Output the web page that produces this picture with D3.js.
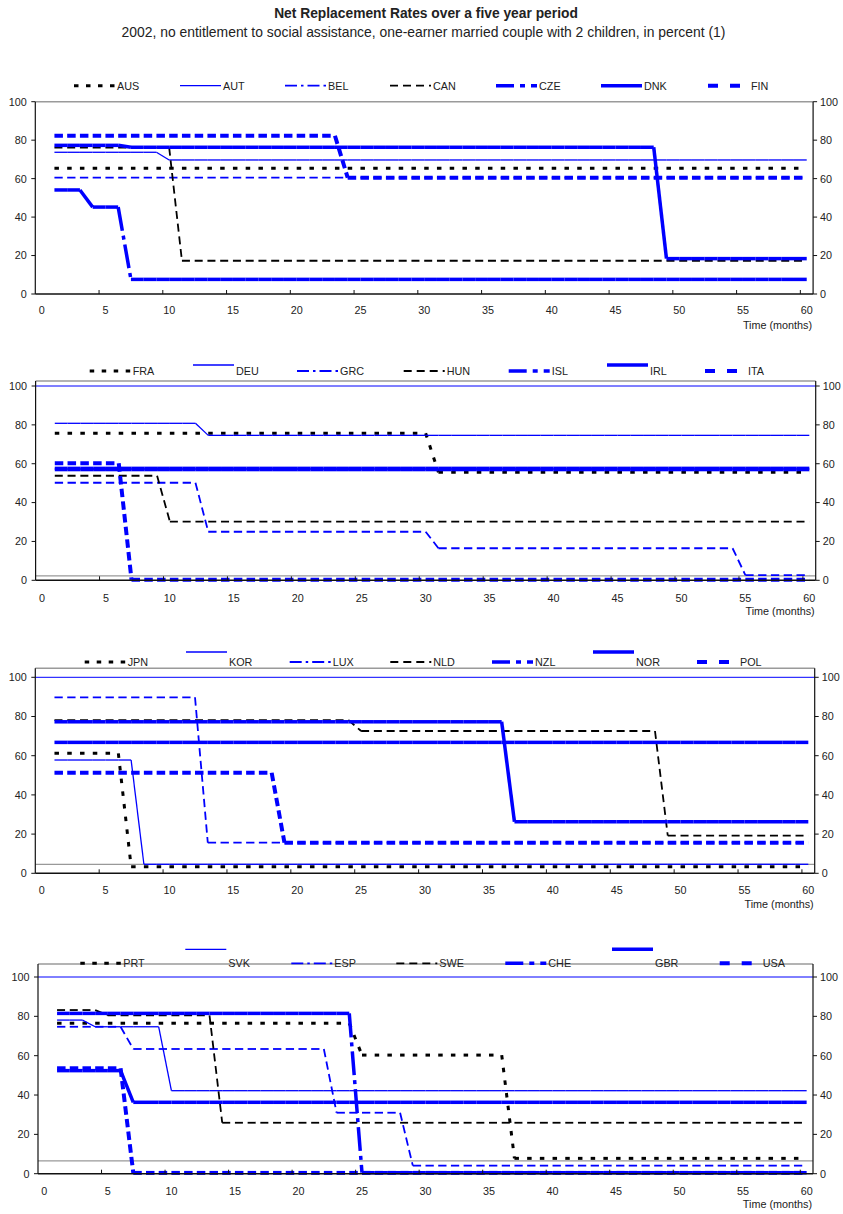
<!DOCTYPE html>
<html><head><meta charset="utf-8">
<script src="https://cdn.jsdelivr.net/npm/d3@7"></script>
<style>
body{margin:0;background:#fff}
text{font-family:"Liberation Sans",Arial,sans-serif;fill:#222}
</style>
</head><body>
<svg id="chart" width="843" height="1214"></svg>
<script>
// ---------------- DATA ----------------
const titleText = "Net Replacement Rates over a five year period";
const subtitleText = "2002, no entitlement to social assistance, one-earner married couple with 2 children, in percent (1)";
const axisTitle = "Time (months)";
const months = d3.range(1, 61);
const xTickLabels = [0, 5, 10, 15, 20, 25, 30, 35, 40, 45, 50, 55, 60];
const yTickLabels = [0, 20, 40, 60, 80, 100];

// each series: [startMonth, value] pairs (value holds from that month on)
const p1Names = ["AUS", "AUT", "BEL", "CAN", "CZE", "DNK", "FIN"];
const p1Runs = [
  [[1, 65.4]],
  [[1, 73.7], [10, 69.7]],
  [[1, 60.5]],
  [[1, 76.1], [11, 17.3]],
  [[1, 54.1], [4, 45.2], [7, 7.6]],
  [[1, 77.3], [7, 76.3], [49, 18.4]],
  [[1, 82.3], [24, 60.5]]
];
const p2Names = ["FRA", "DEU", "GRC", "HUN", "ISL", "IRL", "ITA"];
const p2Runs = [
  [[1, 75.7], [31, 55.6]],
  [[1, 80.8], [13, 74.6]],
  [[1, 50.2], [13, 25.0], [31, 16.5], [55, 2.7]],
  [[1, 53.8], [10, 30.2]],
  [[1, 57.6]],
  [[1, 57.0]],
  [[1, 60.2], [7, 0.3]]
];
const p3Names = ["JPN", "KOR", "LUX", "NLD", "NZL", "NOR", "POL"];
const p3Runs = [
  [[1, 61.2], [7, 3.4]],
  [[1, 57.8], [8, 4.6]],
  [[1, 89.8], [13, 15.6]],
  [[1, 78.2], [25, 72.6], [49, 19.2]],
  [[1, 66.8]],
  [[1, 77.3], [37, 26.3]],
  [[1, 51.3], [19, 15.6]]
];
const p4Names = ["PRT", "SVK", "ESP", "SWE", "CHE", "GBR", "USA"];
const p4Runs = [
  [[1, 76.5], [25, 60.3], [37, 7.8]],
  [[1, 78.1], [4, 74.7], [10, 42.2]],
  [[1, 74.7], [7, 63.4], [23, 31.0], [29, 4.1]],
  [[1, 83.2], [5, 80.5], [14, 25.9]],
  [[1, 81.5], [25, 0.5]],
  [[1, 52.4], [7, 36.3]],
  [[1, 53.6], [7, 0.4]]
];
// extra horizontal lines drawn in the original panels
const blueTopLine = [null, 100, 100, 100];
const grayLine = [null, 2.3, 4.6, 6.5];

// ---------------- STYLES / LAYOUT ----------------
const BLUE = "#0000ff", BLACK = "#000";
const styles = [
  {c: BLACK, w: 3,   seg: "4.5,8.25", leg: "4.5,7.5", solid: false},   // dotted
  {c: BLUE,  w: 1.3, seg: null,       leg: null,      solid: true},    // thin solid
  {c: BLUE,  w: 1.8, seg: "8.3,4.45", leg: "12,4,2.5,4", solid: false},// dash-dot-dot
  {c: BLACK, w: 1.8, seg: "8,4.75",   leg: "8,5",     solid: false},   // dashed
  {c: BLUE,  w: 3.5, seg: "24,5,4,5", leg: "18,6,5,6", solid: false},  // thick dash-dot
  {c: BLUE,  w: 3.5, seg: null,       leg: null,      solid: true},    // thick solid
  {c: BLUE,  w: 4,   seg: "8.5,4.25", leg: "10,12",   solid: false}    // thick dashed
];
const FS = "10.8px";
const layouts = [
  {x0: 35.3, x1: 813.1, y0: 294,    y100: 101.7, top: 101.7, legY: 85.7,  raise: 0,  legX: [117, 223, 328, 433, 539, 644, 751],   tickY: 310,   timeY: 325},
  {x0: 35.6, x1: 815.7, y0: 580.3,  y100: 386,   top: 381,   legY: 371,   raise: 6,  legX: [132.7, 236, 340, 446.7, 551.7, 650, 748], tickY: 597.7, timeY: 611.5},
  {x0: 35.3, x1: 814.7, y0: 873.3,  y100: 677.3, top: 668.3, legY: 662,   raise: 10, legX: [127.7, 229, 332.7, 433.3, 535, 636, 740], tickY: 890,   timeY: 904.5},
  {x0: 38,   x1: 813,   y0: 1173.7, y100: 977,   top: 964,   legY: 963.3, raise: 14, legX: [123.3, 228.3, 334.3, 439.3, 548.3, 655, 762.7], tickY: 1191, timeY: 1204}
];
const panelData = [
  {names: p1Names, runs: p1Runs},
  {names: p2Names, runs: p2Runs},
  {names: p3Names, runs: p3Runs},
  {names: p4Names, runs: p4Runs}
];

// ---------------- DRAW ----------------
const svg = d3.select("#chart");
svg.append("text").attr("x", 426).attr("y", 18).attr("text-anchor", "middle")
  .style("font-size", "13.8px").style("font-weight", "bold").text(titleText);
svg.append("text").attr("x", 423.5).attr("y", 37).attr("text-anchor", "middle")
  .style("font-size", "13.9px").text(subtitleText);

function expand(runs) {
  return months.map(m => {
    let v = null;
    for (const [s, val] of runs) if (m >= s) v = val;
    return {m, v};
  });
}

panelData.forEach((pd, pi) => {
  const L = layouts[pi];
  const g = svg.append("g");
  const x = d3.scaleLinear().domain([-0.5, 60.5]).range([L.x0, L.x1]);
  const y = d3.scaleLinear().domain([0, 100]).range([L.y0, L.y100]);

  // frame: top gray border
  g.append("line").attr("x1", L.x0).attr("x2", L.x1).attr("y1", L.top).attr("y2", L.top)
    .attr("stroke", "#9a9a9a").attr("stroke-width", 1.6);
  if (grayLine[pi] != null) {
    g.append("line").attr("x1", L.x0).attr("x2", L.x1).attr("y1", y(grayLine[pi])).attr("y2", y(grayLine[pi]))
      .attr("stroke", "#999").attr("stroke-width", 1.2);
  }
  if (blueTopLine[pi] != null) {
    g.append("line").attr("x1", L.x0).attr("x2", L.x1).attr("y1", y(blueTopLine[pi])).attr("y2", y(blueTopLine[pi]))
      .attr("stroke", BLUE).attr("stroke-width", 1);
  }

  // series
  pd.runs.forEach((runs, si) => {
    const st = styles[si];
    const pts = expand(runs);
    const sg = g.append("g").attr("stroke", st.c).attr("stroke-width", st.w).attr("fill", "none");
    for (let i = 0; i < pts.length - 1; i++) {
      const ln = sg.append("line")
        .attr("x1", x(pts[i].m)).attr("y1", y(pts[i].v))
        .attr("x2", x(pts[i + 1].m)).attr("y2", y(pts[i + 1].v));
      if (st.seg) ln.attr("stroke-dasharray", st.seg);
    }
  });

  // axes lines
  g.append("line").attr("x1", L.x0).attr("x2", L.x0).attr("y1", L.top).attr("y2", L.y0)
    .attr("stroke", "#111").attr("stroke-width", 1.2);
  g.append("line").attr("x1", L.x1).attr("x2", L.x1).attr("y1", L.top).attr("y2", L.y0)
    .attr("stroke", "#111").attr("stroke-width", 1.2);
  g.append("line").attr("x1", L.x0).attr("x2", L.x1).attr("y1", L.y0).attr("y2", L.y0)
    .attr("stroke", "#111").attr("stroke-width", 1.5);

  // y ticks + labels (both sides)
  yTickLabels.forEach(v => {
    g.append("line").attr("x1", L.x0 - 4).attr("x2", L.x0).attr("y1", y(v)).attr("y2", y(v))
      .attr("stroke", "#111").attr("stroke-width", 1);
    g.append("line").attr("x1", L.x1).attr("x2", L.x1 + 4).attr("y1", y(v)).attr("y2", y(v))
      .attr("stroke", "#111").attr("stroke-width", 1);
    g.append("text").attr("x", L.x0 - 8.5).attr("y", y(v) + 3.9).attr("text-anchor", "end")
      .style("font-size", FS).text(v);
    g.append("text").attr("x", L.x1 + 7).attr("y", y(v) + 3.9).attr("text-anchor", "start")
      .style("font-size", FS).text(v);
  });
  // x ticks + labels
  xTickLabels.forEach(v => {
    if (v > 0) {
      g.append("line").attr("x1", x(v - 0.5)).attr("x2", x(v - 0.5)).attr("y1", L.y0 - 4).attr("y2", L.y0)
        .attr("stroke", "#111").attr("stroke-width", 1);
    }
    g.append("text").attr("x", x(v)).attr("y", L.tickY + 3.9).attr("text-anchor", "middle")
      .style("font-size", FS).text(v);
  });
  g.append("text").attr("x", L.x1 - 1).attr("y", L.timeY + 3.9).attr("text-anchor", "end")
    .style("font-size", FS).text(axisTitle);

  // legend
  pd.names.forEach((name, si) => {
    const st = styles[si];
    const tx = L.legX[si];
    const ly = st.solid ? L.legY - L.raise : L.legY;
    const ln = g.append("line").attr("x1", tx - 43).attr("x2", tx - 2).attr("y1", ly).attr("y2", ly)
      .attr("stroke", st.c).attr("stroke-width", st.w);
    if (st.leg) ln.attr("stroke-dasharray", st.leg);
    g.append("text").attr("x", tx).attr("y", L.legY + 3.9).style("font-size", FS).text(name);
  });
});
</script>
</body></html>
